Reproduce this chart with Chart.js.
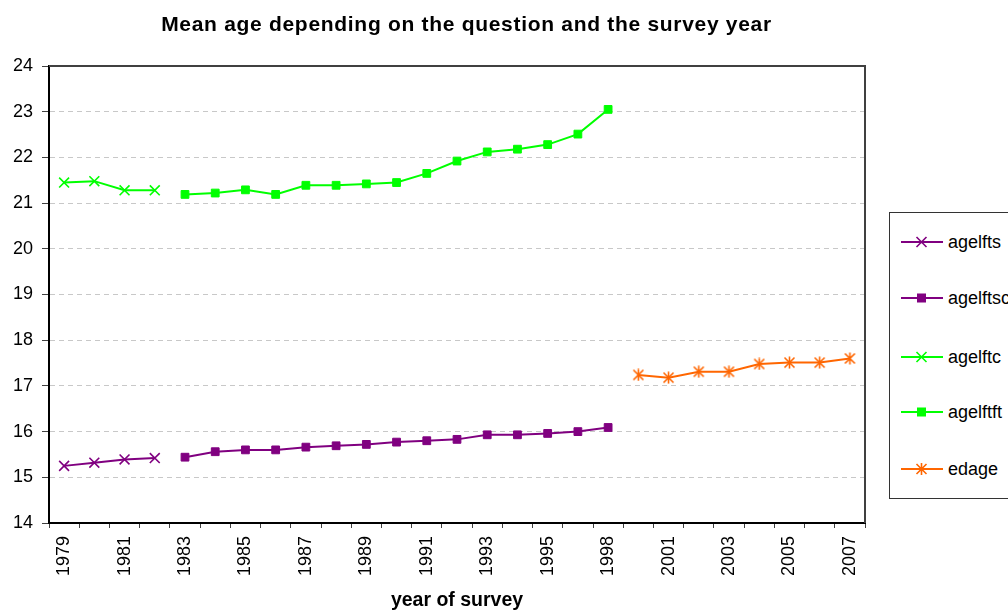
<!DOCTYPE html>
<html>
<head>
<meta charset="utf-8">
<script src="https://cdn.jsdelivr.net/npm/chart.js@4/dist/chart.umd.min.js"></script>
<style>
  html, body { margin: 0; padding: 0; background: #fff; overflow: hidden; width: 1008px; height: 611px; }
  #wrap { position: relative; width: 1008px; height: 611px; overflow: hidden; }
  canvas#c { position: absolute; left: 0; top: 0; }
  #title { position: absolute; left: 0; width: 933px; top: 12px; line-height: 24px; text-align: center;
           font: bold 21px "Liberation Sans", Arial, sans-serif; letter-spacing: 0.7px; color: #000; }
  #legend { position: absolute; left: 889px; top: 212px; width: 140px; height: 287px;
            border: 1px solid #333; box-sizing: border-box; background: #fff; }
  .item { position: absolute; left: 11px; height: 20px; display: flex; align-items: center;
          font: 18px "Liberation Sans", Arial, sans-serif; color: #000; white-space: nowrap; }
  .item svg { margin-right: 5px; }
</style>
</head>
<body>
<div id="wrap">
  <canvas id="c" width="1008" height="611"></canvas>
  <div id="title">Mean age depending on the question and the survey year</div>
  <div id="legend"></div>
</div>
<script>
// ---- data ----
const categories = ['1979','1980','1981','1982','1983','1984','1985','1986','1987','1988','1989','1990',
  '1991','1992','1993','1994','1995','1997','1998','2000','2001','2002','2003','2004','2005','2006','2007'];
const shownLabels = ['1979','1981','1983','1985','1987','1989','1991','1993','1995','1998','2001','2003','2005','2007'];
const seriesNames = ['agelfts','agelftsc','agelftc','agelftft','edage'];
const agelfts  = [15.25,15.32,15.39,15.42,null,null,null,null,null,null,null,null,null,null,null,null,null,null,null,null,null,null,null,null,null,null,null];
const agelftsc = [null,null,null,null,15.44,15.56,15.60,15.60,15.66,15.69,15.72,15.77,15.80,15.83,15.93,15.93,15.96,16.00,16.09,null,null,null,null,null,null,null,null];
const agelftc  = [21.45,21.48,21.28,21.28,null,null,null,null,null,null,null,null,null,null,null,null,null,null,null,null,null,null,null,null,null,null,null];
const agelftft = [null,null,null,null,21.19,21.22,21.29,21.19,21.39,21.39,21.42,21.45,21.65,21.92,22.12,22.18,22.28,22.51,23.05,null,null,null,null,null,null,null,null];
const edage    = [null,null,null,null,null,null,null,null,null,null,null,null,null,null,null,null,null,null,null,17.24,17.18,17.31,17.31,17.48,17.51,17.51,17.60];
const yTicks = [14,15,16,17,18,19,20,21,22,23,24];

const PURPLE = '#800080', GREEN = '#00FF00', ORANGE = '#FF6600';

// asterisk marker
function makeStar(color) {
  const c = document.createElement('canvas');
  c.width = 13; c.height = 13;
  const g = c.getContext('2d');
  g.strokeStyle = color; g.lineWidth = 1.6;
  g.beginPath();
  g.moveTo(6.5, 0.5); g.lineTo(6.5, 12.5);
  g.moveTo(1.5, 1.5); g.lineTo(11.5, 11.5);
  g.moveTo(11.5, 1.5); g.lineTo(1.5, 11.5);
  g.stroke();
  return c;
}
const starImg = makeStar(ORANGE);

const borderPlugin = {
  id: 'frame',
  afterDraw(chart) {
    const {ctx, chartArea: a} = chart;
    ctx.save();
    ctx.strokeStyle = '#404040';
    ctx.lineWidth = 2;
    ctx.beginPath();
    ctx.moveTo(a.left, a.top); ctx.lineTo(a.right, a.top); ctx.lineTo(a.right, a.bottom);
    ctx.stroke();
    ctx.restore();
  }
};

function ds(label, data, color, style, radius) {
  return {
    label, data,
    borderColor: color, backgroundColor: color,
    borderWidth: 2,
    pointStyle: style, pointRadius: radius, pointHoverRadius: radius,
    pointBorderColor: color, pointBackgroundColor: color, pointBorderWidth: style === 'rect' ? 1 : 1.6,
    spanGaps: false, tension: 0
  };
}

new Chart(document.getElementById('c'), {
  type: 'line',
  data: {
    labels: categories,
    datasets: [
      ds(seriesNames[0], agelfts, PURPLE, 'crossRot', 7),
      ds(seriesNames[1], agelftsc, PURPLE, 'rect', 5.5),
      ds(seriesNames[2], agelftc, GREEN, 'crossRot', 7),
      ds(seriesNames[3], agelftft, GREEN, 'rect', 5.5),
      ds(seriesNames[4], edage, ORANGE, starImg, 6)
    ]
  },
  options: {
    responsive: false,
    animation: false,
    devicePixelRatio: 1,
    layout: { padding: { left: 0, right: 143, top: 66, bottom: 0 } },
    plugins: { legend: { display: false }, title: { display: false }, tooltip: { enabled: false } },
    scales: {
      x: {
        type: 'category',
        offset: true,
        grid: { display: true, offset: true, drawOnChartArea: false, drawTicks: true, tickLength: 5,
                tickColor: '#404040', tickWidth: 1 },
        border: { display: true, color: '#000', width: 2 },
        ticks: {
          autoSkip: false, maxRotation: 90, minRotation: 90, padding: 8,
          color: '#000', font: { family: '"Liberation Sans", Arial, sans-serif', size: 18 },
          callback: function(v, i) { const l = categories[i]; return shownLabels.includes(l) ? l : ''; }
        },
        title: { display: true, text: 'year of survey', color: '#000',
                 font: { family: '"Liberation Sans", Arial, sans-serif', size: 19.5, weight: 'bold', lineHeight: 1 },
                 padding: { top: 0, bottom: 1 } },
        afterFit(scale) { scale.height = 88; }
      },
      y: {
        min: 14, max: 24,
        afterBuildTicks(scale) { scale.ticks = yTicks.map(v => ({ value: v })); },
        grid: { color: '#c8c8c8', lineWidth: 1, drawTicks: true, tickLength: 7,
                tickColor: '#404040', tickBorderDash: [], tickWidth: 1 },
        border: { display: true, color: '#000', width: 2, dash: [5, 4] },
        ticks: { padding: 9, color: '#000', font: { family: '"Liberation Sans", Arial, sans-serif', size: 18 } },
        afterFit(scale) { scale.width = 49; }
      }
    }
  },
  plugins: [borderPlugin]
});

// ---- HTML legend ----
const legendDefs = [
  { name: seriesNames[0], color: PURPLE, mark: 'x' },
  { name: seriesNames[1], color: PURPLE, mark: 'sq' },
  { name: seriesNames[2], color: GREEN, mark: 'x' },
  { name: seriesNames[3], color: GREEN, mark: 'sq' },
  { name: seriesNames[4], color: ORANGE, mark: 'star' }
];
const legendTops = [19, 75, 134, 189, 246];
const lg = document.getElementById('legend');
legendDefs.forEach((d, i) => {
  let m = '';
  if (d.mark === 'x') m = `<path d="M15.5 2 L25.5 12 M25.5 2 L15.5 12" stroke="${d.color}" stroke-width="1.6" fill="none"/>`;
  else if (d.mark === 'sq') m = `<rect x="16" y="2.5" width="9" height="9" fill="${d.color}"/>`;
  else m = `<path d="M20.5 1 L20.5 13 M15.5 2 L25.5 12 M25.5 2 L15.5 12" stroke="${d.color}" stroke-width="1.6" fill="none"/>`;
  const div = document.createElement('div');
  div.className = 'item';
  div.style.top = legendTops[i] + 'px';
  div.innerHTML = `<svg width="42" height="14" viewBox="0 0 42 14"><line x1="0" y1="7" x2="42" y2="7" stroke="${d.color}" stroke-width="2"/>${m}</svg><span>${d.name}</span>`;
  lg.appendChild(div);
});
</script>
</body>
</html>
